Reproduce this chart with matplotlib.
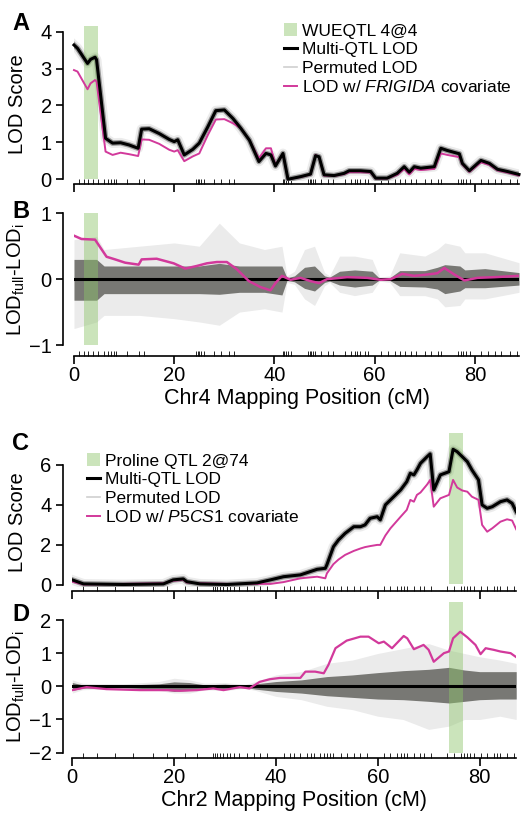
import matplotlib
matplotlib.use('Agg')
import matplotlib.pyplot as plt
from matplotlib.patches import Patch
from matplotlib.lines import Line2D

plt.rcParams['font.family'] = ['Liberation Sans', 'DejaVu Sans']
plt.rcParams['mathtext.fontset'] = 'custom'
plt.rcParams['mathtext.rm'] = 'Liberation Sans'
plt.rcParams['mathtext.it'] = 'Liberation Sans:italic'

MAGENTA = '#d2399b'
GREEN = '#8cc46a'

# ---- Chr4 (panels A, B) ----
chr4_x = [0, 0.7, 2.7, 3.3, 4.2, 4.5, 6.3, 7.7, 9.3, 11, 12.8, 13.5, 15, 17, 19, 20, 20.7, 22,
          23.7, 25, 26.7, 28.3, 30, 31.7, 33.3, 35, 36.9, 38.3, 39.3, 40.2, 41.7, 42.7, 45.2,
          47.2, 48.2, 48.9, 49.9, 51.9, 53.9, 54.9, 57.2, 59.2, 60.2, 62.5, 64.5, 65.9, 66.9,
          67.9, 69.2, 71.9, 73.2, 74.5, 76.9, 77.5, 78.9, 81.2, 82.9, 84.5, 86.5, 88.8]
chr4_lod = [3.64, 3.55, 3.14, 3.25, 3.31, 3.24, 1.11, 0.98, 0.99, 0.93, 0.84, 1.36, 1.37, 1.24,
            1.08, 1.02, 1.07, 0.66, 0.81, 0.98, 1.42, 1.86, 1.88, 1.65, 1.38, 1.06, 0.48, 0.70,
            0.66, 0.36, 0.70, 0.0, 0.07, 0.14, 0.64, 0.61, 0.12, 0.10, 0.16, 0.23, 0.23, 0.21,
            0.03, 0.03, 0.16, 0.34, 0.19, 0.34, 0.30, 0.34, 0.84, 0.78, 0.69, 0.43, 0.23, 0.51,
            0.43, 0.27, 0.21, 0.13]
chr4_frigida = [2.96, 2.92, 2.44, 2.60, 2.69, 2.65, 0.75, 0.66, 0.72, 0.68, 0.63, 1.08, 1.07,
                0.96, 0.80, 0.75, 0.79, 0.49, 0.62, 0.70, 1.20, 1.62, 1.63, 1.52, 1.38, 1.06,
                0.57, 0.84, 0.84, 0.39, 0.68, 0.0, 0.06, 0.13, 0.66, 0.60, 0.10, 0.09, 0.14,
                0.19, 0.19, 0.18, 0.02, 0.02, 0.12, 0.28, 0.13, 0.28, 0.25, 0.28, 0.70, 0.66,
                0.60, 0.40, 0.20, 0.46, 0.39, 0.24, 0.18, 0.10]

chr4_diff_x = [0, 1.5, 4.2, 6.5, 8.2, 10.2, 12.9, 13.5, 16.5, 19.9, 22.2, 24.5, 26.5, 28.5, 30.5,
               32.5, 34.9, 37.2, 39.2, 40.2, 41.5, 43.2, 45.2, 47.2, 48.9, 50.5, 54.5, 58.5,
               61.2, 63.2, 65.5, 67.9, 70.5, 72.5, 73.9, 75.9, 77.9, 80.5, 83.9, 88.8]
chr4_diff = [0.66, 0.61, 0.60, 0.34, 0.30, 0.25, 0.22, 0.30, 0.31, 0.24, 0.16, 0.20, 0.24, 0.26,
             0.26, 0.15, -0.03, -0.12, -0.17, -0.06, 0.05, -0.01, 0.02, -0.03, -0.06, 0.0, 0.03,
             0.02, -0.01, 0.0, 0.08, 0.05, 0.07, 0.09, 0.17, 0.07, -0.02, 0.02, 0.03, 0.05]

# permuted spread (envelopes) for panel B
chr4_perm_x = [0, 4.5, 6, 13, 20, 25, 29, 33, 38, 41.5, 42.5, 44, 46, 48, 50, 51, 53, 56, 59.5,
               61, 63, 65, 70, 72.5, 74, 77, 78, 82, 88.8]
chr4_core_hi = [0.3, 0.3, 0.2, 0.2, 0.2, 0.2, 0.24, 0.2, 0.2, 0.2, 0.02, 0.05, 0.18,
                0.2, 0.05, 0.03, 0.12, 0.14, 0.12, 0.01, 0.02, 0.13, 0.13, 0.18, 0.22, 0.2,
                0.14, 0.16, 0.1]
chr4_core_lo = [-0.32, -0.32, -0.22, -0.22, -0.22, -0.22, -0.23, -0.2, -0.2, -0.24, -0.02,
                -0.04, -0.14, -0.18, -0.05, -0.03, -0.09, -0.12, -0.09, -0.01, -0.02, -0.11,
                -0.12, -0.15, -0.22, -0.18, -0.13, -0.13, -0.09]
chr4_out_hi = [0.6, 0.65, 0.45, 0.5, 0.55, 0.5, 0.85, 0.55, 0.45, 0.5, 0.05, 0.12, 0.45, 0.5,
               0.1, 0.05, 0.35, 0.35, 0.3, 0.03, 0.05, 0.4, 0.35, 0.45, 0.55, 0.5, 0.4, 0.4, 0.25]
chr4_out_lo = [-0.75, -0.65, -0.55, -0.55, -0.6, -0.65, -0.7, -0.5, -0.45, -0.5, -0.05, -0.08,
               -0.3, -0.4, -0.1, -0.05, -0.2, -0.25, -0.2, -0.03, -0.05, -0.25, -0.25, -0.3,
               -0.42, -0.4, -0.3, -0.3, -0.2]

chr4_markers = [1.0, 2.0, 2.8, 3.7, 4.7, 6.0, 6.8, 7.3, 8.0, 8.3, 10.5, 13.0, 14.0, 24.3, 24.7,
                25.0, 25.3, 26.0, 28.0, 29.3, 31.0, 32.0, 41.7, 42.0, 42.3, 42.8, 43.3, 46.7,
                47.0, 47.3, 47.7, 48.0, 49.3, 50.7, 51.7, 54.0, 55.3, 56.0, 56.5, 57.0, 58.0,
                58.7, 61.3, 62.7, 64.0, 65.0, 66.0, 67.3, 68.3, 70.0, 71.3, 72.7, 73.3, 76.7,
                77.2, 77.7, 78.3, 79.0, 81.3, 82.7, 84.0, 85.3, 87.0, 88.5]
wueqtl = (1.9, 4.7)

# ---- Chr2 (panels C, D) ----
chr2_x = [0, 2.2, 10.0, 17.9, 19.8, 21.8, 22.5, 25.1, 30.4, 36.3, 38.9, 41.5, 44.8, 48.1, 49.7,
          50.0, 51.3, 52.3, 53.6, 55.3, 56.6, 57.5, 58.5, 59.9, 60.5, 61.5, 62.5, 64.5, 65.7,
          66.4, 67.1, 67.7, 68.4, 69.7, 70.3, 71.0, 72.3, 74.0, 74.8, 75.6, 76.6, 77.6, 78.5,
          79.8, 80.5, 81.5, 82.5, 84.1, 85.4, 86.4, 87.2]
chr2_lod = [0.23, 0.03, 0.0, 0.03, 0.23, 0.28, 0.14, 0.03, 0.0, 0.08, 0.23, 0.39, 0.48, 0.76,
            0.81, 0.98, 1.89, 2.23, 2.56, 2.89, 2.89, 2.98, 3.31, 3.39, 3.23, 3.98, 4.23, 4.73,
            5.14, 5.56, 5.48, 5.73, 6.06, 6.39, 6.53, 4.73, 5.48, 5.64, 6.76, 6.64, 6.39, 6.14,
            5.73, 5.23, 3.98, 3.81, 3.89, 4.14, 4.23, 4.06, 3.64]
chr2_p5cs1 = [0.14, 0.0, 0.03, 0.06, 0.19, 0.23, 0.10, 0.06, 0.03, 0.03, 0.03, 0.12, 0.31,
              0.39, 0.31, 0.55, 1.02, 1.25, 1.48, 1.68, 1.8, 1.87, 1.92, 1.98, 1.98, 2.45, 2.81,
              3.39, 3.73, 4.23, 4.14, 4.48, 4.6, 5.0, 5.23, 3.89, 4.31, 4.48, 5.23, 4.85, 4.7,
              4.64, 4.39, 4.23, 2.98, 2.64, 2.81, 3.14, 3.26, 3.2, 2.76]

chr2_diff_x = [0, 2.8, 6.7, 13.3, 18.5, 21.1, 24.4, 27.7, 29.7, 32.9, 34.8, 36.8, 38.8, 40.8,
               44.8, 45.8, 47.7, 49.4, 50.3, 51.7, 53.9, 56.6, 58.2, 60.2, 61.2, 62.8, 65.1,
               65.8, 67.1, 69.0, 70.0, 71.0, 73.0, 74.0, 74.8, 76.2, 77.6, 79.2, 80.2, 81.2,
               82.8, 84.1, 86.1, 87.2]
chr2_diff = [-0.11, -0.02, -0.08, -0.11, -0.11, -0.13, -0.11, -0.06, -0.11, -0.02, -0.06, 0.14,
             0.22, 0.26, 0.26, 0.45, 0.45, 0.40, 0.65, 1.16, 1.39, 1.51, 1.51, 1.31, 1.36, 1.16,
             1.53, 1.46, 1.13, 1.26, 1.11, 0.75, 1.01, 1.06, 1.46, 1.66, 1.49, 1.26, 0.98,
             1.16, 1.11, 1.06, 1.01, 0.89]

chr2_perm_x = [0, 2, 5, 10, 17, 20, 23, 26, 30, 34, 36, 40, 45, 50, 55, 60, 65, 70, 74, 77, 80,
               84, 87.2]
chr2_core_hi = [0.12, 0.05, 0.04, 0.04, 0.08, 0.14, 0.12, 0.05, 0.07, 0.03, 0.08, 0.15, 0.2,
                0.3, 0.35, 0.42, 0.48, 0.52, 0.58, 0.5, 0.45, 0.45, 0.45]
chr2_core_lo = [-0.12, -0.05, -0.04, -0.04, -0.08, -0.15, -0.12, -0.05, -0.07, -0.03, -0.08,
                -0.15, -0.2, -0.28, -0.33, -0.38, -0.4, -0.45, -0.5, -0.45, -0.4, -0.38, -0.38]
chr2_out_hi = [0.2, 0.1, 0.08, 0.08, 0.15, 0.25, 0.2, 0.1, 0.12, 0.06, 0.15, 0.35, 0.45, 0.7,
               0.8, 1.0, 1.15, 1.3, 1.1, 1.0, 0.9, 0.8, 0.7]
chr2_out_lo = [-0.2, -0.1, -0.08, -0.08, -0.12, -0.2, -0.2, -0.1, -0.12, -0.06, -0.12, -0.3,
               -0.4, -0.6, -0.7, -0.9, -1.0, -1.3, -1.2, -1.0, -1.0, -0.9, -1.0]

chr2_markers = [2.2, 4.8, 8.4, 12.0, 15.9, 18.6, 22.2, 24.5, 27.7, 28.1, 28.4, 29.0, 29.7, 30.4,
                31.0, 31.7, 32.7, 34.3, 35.6, 36.9, 38.2, 41.5, 42.8, 43.5, 44.8, 46.1, 46.8,
                47.4, 48.7, 49.4, 50.0, 50.7, 51.3, 52.7, 54.0, 55.3, 56.6, 57.9, 61.2, 62.5,
                63.8, 64.5, 65.1, 65.8, 67.1, 68.4, 69.0, 70.4, 73.6, 74.9, 76.3, 76.9, 77.6,
                78.2, 78.9, 80.2, 81.5, 82.8, 83.5, 84.1, 85.4, 86.8]
proline_qtl = (74.0, 76.7)

W, H = 525, 813
fig = plt.figure(figsize=(W / 100, H / 100), dpi=100)


def add_ax(left, top, right, bottom):
    return fig.add_axes([left / W, 1 - bottom / H, (right - left) / W, (bottom - top) / H])


def style(ax, xmax, yticks, markers, yout, xout, xlabels=False):
    for s in ['top', 'right']:
        ax.spines[s].set_visible(False)
    ax.spines['left'].set_bounds(yticks[0], yticks[-1])
    ax.spines['left'].set_position(('outward', yout))
    ax.spines['bottom'].set_bounds(0, xmax)
    ax.spines['bottom'].set_position(('outward', xout))
    for s in ['left', 'bottom']:
        ax.spines[s].set_linewidth(1.2)
    ax.set_yticks(yticks)
    ax.set_yticklabels([str(t).replace('-', '\u2212') for t in yticks])
    ax.set_xticks([0, 20, 40, 60, 80])
    ax.set_xticks(markers, minor=True)
    ax.set_xlim(0, xmax)
    ax.tick_params(axis='y', length=5, width=1.2, pad=3, labelsize=14.5)
    ax.tick_params(axis='x', which='major', direction='out', length=6, width=1.2, pad=1,
                   labelsize=14.5, labelbottom=xlabels)
    ax.tick_params(axis='x', which='minor', direction='in', length=3.5, width=0.6)


def perm_bands(ax, x, out_lo, out_hi, core_lo, core_hi):
    ax.fill_between(x, out_lo, out_hi, color='#ebebeb', lw=0, zorder=1)
    ax.fill_between(x, core_lo, core_hi, color='#787874', lw=0, zorder=2)


# Panel A
axA = add_ax(74, 26.2, 519, 181.1)
axA.fill_between(wueqtl, 0, 4.15, color=GREEN, alpha=0.45, lw=0, zorder=3)
axA.plot(chr4_x, chr4_lod, color='#ececec', lw=7, solid_joinstyle='round', zorder=1)
axA.plot(chr4_x, chr4_lod, color='#9a9a9a', lw=4, solid_joinstyle='round', zorder=2)
axA.plot(chr4_x, chr4_frigida, color=MAGENTA, lw=1.4, zorder=4, clip_on=False)
axA.plot(chr4_x, chr4_lod, color='black', lw=2.2, zorder=5, clip_on=False)
axA.set_ylim(-0.05, 4.15)
style(axA, 88.8, [0, 1, 2, 3, 4], chr4_markers, 8, 2)
axA.set_ylabel('LOD Score', fontsize=14.5)
axA.yaxis.set_label_coords(-0.105, 0.5)

# Panel B
axB = add_ax(74, 213.3, 519, 345)
perm_bands(axB, chr4_perm_x, chr4_out_lo, chr4_out_hi, chr4_core_lo, chr4_core_hi)
axB.fill_between(wueqtl, -1, 1, color=GREEN, alpha=0.45, lw=0, zorder=3)
axB.axhline(0, color='black', lw=2.2, zorder=4)
axB.plot(chr4_diff_x, chr4_diff, color=MAGENTA, lw=1.8, zorder=5)
axB.set_ylim(-1, 1)
style(axB, 88.8, [-1, 0, 1], chr4_markers, 8, 8, xlabels=True)
axB.set_ylabel(r'LOD$_{\mathregular{full}}$-LOD$_{\mathregular{i}}$', fontsize=14.5)
axB.yaxis.set_label_coords(-0.105, 0.5)
axB.set_xlabel('Chr4 Mapping Position (cM)', fontsize=15.5, labelpad=2)

# Panel C
axC = add_ax(72.3, 433.3, 516.2, 586.5)
axC.fill_between(proline_qtl, 0, 7.56, color=GREEN, alpha=0.45, lw=0, zorder=3)
axC.plot(chr2_x, chr2_lod, color='#ececec', lw=7, solid_joinstyle='round', zorder=1)
axC.plot(chr2_x, chr2_lod, color='#9a9a9a', lw=4, solid_joinstyle='round', zorder=2)
axC.plot(chr2_x, chr2_p5cs1, color=MAGENTA, lw=1.4, zorder=4)
axC.plot(chr2_x, chr2_lod, color='black', lw=2.2, zorder=5)
axC.set_ylim(-0.1, 7.56)
style(axC, 87.2, [0, 2, 4, 6], chr2_markers, 7, 3)
axC.set_ylabel('LOD Score', fontsize=14.5)
axC.yaxis.set_label_coords(-0.102, 0.42)

# Panel D
axD = add_ax(72.3, 602, 516.2, 752.5)
perm_bands(axD, chr2_perm_x, chr2_out_lo, chr2_out_hi, chr2_core_lo, chr2_core_hi)
axD.fill_between(proline_qtl, -2, 2.56, color=GREEN, alpha=0.45, lw=0, zorder=3)
axD.axhline(0, color='black', lw=2.2, zorder=4)
axD.plot(chr2_diff_x, chr2_diff, color=MAGENTA, lw=1.6, zorder=5)
axD.set_ylim(-2, 2.56)
style(axD, 87.2, [-2, -1, 0, 1, 2], chr2_markers, 7, 4, xlabels=True)
axD.set_ylabel(r'LOD$_{\mathregular{full}}$-LOD$_{\mathregular{i}}$', fontsize=14.5)
axD.yaxis.set_label_coords(-0.102, 0.44)
axD.set_xlabel('Chr2 Mapping Position (cM)', fontsize=15.5, labelpad=2)


# legends
def legend(ax, qtl_label, cov_label, anchor):
    handles = [Patch(facecolor=GREEN, alpha=0.45, edgecolor='none'),
               Line2D([], [], color='black', lw=2.2),
               Line2D([], [], color='#cfcfcf', lw=1.2),
               Line2D([], [], color=MAGENTA, lw=1.4)]
    labels = [qtl_label, 'Multi-QTL LOD', 'Permuted LOD', cov_label]
    ax.legend(handles, labels, loc='upper left', bbox_to_anchor=anchor,
              bbox_transform=fig.transFigure, frameon=False, fontsize=12.5,
              handlelength=0.75, handleheight=0.8, handletextpad=0.3,
              labelspacing=0.18, borderpad=0, borderaxespad=0)


legend(axA, 'WUEQTL 4@4', r'LOD w/ $\mathit{FRIGIDA}$ covariate', (284 / W, 1 - 23 / H))
legend(axC, 'Proline QTL 2@74', r'LOD w/ $\mathit{P5CS1}$ covariate', (87 / W, 1 - 453 / H))

for letter, y in [('A', 12), ('B', 200), ('C', 432), ('D', 603)]:
    fig.text(12 / W, 1 - y / H, letter, fontsize=17, fontweight='bold', va='top', ha='left')

fig.savefig('out.png', dpi=100)
